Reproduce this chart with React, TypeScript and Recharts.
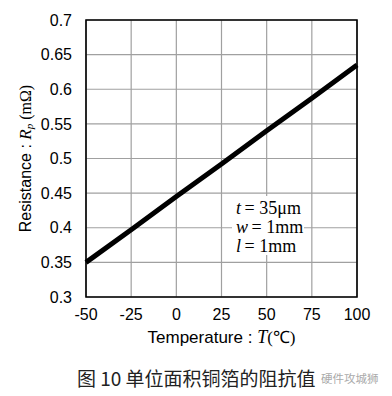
import React from "react";
import {
  LineChart,
  Line,
  XAxis,
  YAxis,
  CartesianGrid,
  ReferenceArea,
  Label,
} from "recharts";

// Temperature (°C) and resistance (mΩ) of 1mm x 1mm copper foil, t=35µm
const temperatures = [-50, -25, 0, 25, 50, 75, 100];
const resistances = [0.35, 0.397, 0.445, 0.492, 0.54, 0.587, 0.635];
const xTicks = [-50, -25, 0, 25, 50, 75, 100];
const yTicks = [0.3, 0.35, 0.4, 0.45, 0.5, 0.55, 0.6, 0.65, 0.7];
const notes = [
  { v: "t", rest: "35μm" },
  { v: "w", rest: "1mm" },
  { v: "l", rest: "1mm" },
];

const data = temperatures.map((t, i) => ({ t, r: resistances[i] }));

const tickFont = { fontFamily: "Liberation Sans, Arial, sans-serif", fontSize: 16, fill: "#000" };

const YLabel = ({ viewBox }: any) => {
  const cx = 25;
  const cy = viewBox.y + viewBox.height / 2;
  return (
    <text
      x={cx}
      y={cy}
      transform={`rotate(-90 ${cx} ${cy})`}
      textAnchor="middle"
      dominantBaseline="central"
      fontFamily="Liberation Sans, Arial, sans-serif"
      fontSize={16}
      fill="#000"
    >
      Resistance :{" "}
      <tspan fontFamily="Liberation Serif, serif" fontStyle="italic" fontSize={17}>
        R
      </tspan>
      <tspan fontFamily="Liberation Serif, serif" fontStyle="italic" fontSize={11} dy={4}>
        p
      </tspan>
      <tspan fontFamily="Liberation Serif, serif" fontSize={16} dy={-4}>
        {" "}(mΩ)
      </tspan>
    </text>
  );
};

const XLabel = ({ viewBox }: any) => {
  const cx = viewBox.x + viewBox.width / 2;
  const y = viewBox.y + 40;
  return (
    <text
      x={cx}
      y={y}
      textAnchor="middle"
      dominantBaseline="central"
      fontFamily="Liberation Sans, Arial, sans-serif"
      fontSize={17}
      fill="#000"
    >
      Temperature :{" "}
      <tspan fontFamily="Liberation Serif, serif" fontStyle="italic" fontSize={18}>
        T
      </tspan>
      <tspan fontFamily="Liberation Serif, serif" fontSize={17}>
        (℃)
      </tspan>
    </text>
  );
};

export default function App() {
  return (
    <div
      style={{
        position: "absolute",
        left: 0,
        top: 0,
        width: 392,
        height: 396,
        background: "#fff",
      }}
    >
      <LineChart
        width={392}
        height={355}
        data={data}
        margin={{ top: 20, right: 35, bottom: 0, left: 0 }}
      >
        <CartesianGrid stroke="#a0a0a0" strokeWidth={1.2} />
        <XAxis
          dataKey="t"
          type="number"
          domain={[-50, 100]}
          ticks={xTicks}
          height={58}
          tickLine={false}
          axisLine={false}
          tickSize={0}
          tickMargin={12}
          tick={tickFont}
          interval={0}
        >
          <Label content={<XLabel />} />
        </XAxis>
        <YAxis
          type="number"
          domain={[0.3, 0.7]}
          ticks={yTicks}
          width={86}
          tickLine={false}
          axisLine={false}
          tickSize={0}
          tickMargin={14}
          tick={tickFont}
          interval={0}
        >
          <Label content={<YLabel />} />
        </YAxis>
        <ReferenceArea
          x1={-50}
          x2={100}
          y1={0.3}
          y2={0.7}
          fill="none"
          stroke="#000"
          strokeWidth={1.6}
          ifOverflow="visible"
        />
        <Line
          dataKey="r"
          stroke="#000"
          strokeWidth={5}
          dot={false}
          isAnimationActive={false}
        />
      </LineChart>
      <div
        style={{
          position: "absolute",
          left: 232,
          top: 196,
          width: 72,
          height: 59,
          boxSizing: "border-box",
          paddingLeft: 4,
          paddingTop: 3,
          fontFamily: "Liberation Serif, serif",
          fontSize: 18,
          lineHeight: "19px",
          color: "#000",
          background: "#fff",
          whiteSpace: "nowrap",
        }}
      >
        {notes.map((n) => (
          <div key={n.v}>
            <i>{n.v}</i>
            {"\u2009= "}
            {n.rest}
          </div>
        ))}
      </div>
      <div
        style={{
          position: "absolute",
          left: 77,
          top: 364,
          fontFamily: "Noto Sans CJK SC, sans-serif",
          fontSize: 19,
          color: "#222",
          whiteSpace: "nowrap",
        }}
      >
        图 10 单位面积铜箔的阻抗值
      </div>
      <div
        style={{
          position: "absolute",
          left: 321,
          top: 370,
          fontFamily: "Noto Sans CJK SC, sans-serif",
          fontSize: 11.5,
          color: "#aaa",
          whiteSpace: "nowrap",
        }}
      >
        硬件攻城狮
      </div>
    </div>
  );
}
